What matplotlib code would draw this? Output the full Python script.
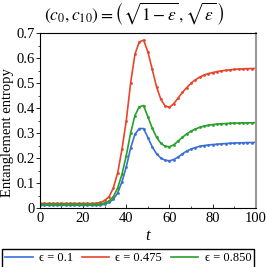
import matplotlib
matplotlib.use("Agg")
import matplotlib.pyplot as plt
import numpy as np

plt.rcParams['font.family'] = ['Liberation Serif', 'DejaVu Serif']
plt.rcParams['mathtext.fontset'] = 'stix'

# tiempo (cada 2 unidades)
t = list(range(0, 101, 2))

# epsilon = 0.1
blue = [0.011, 0.011, 0.011, 0.011, 0.011, 0.011, 0.011, 0.011, 0.011, 0.011,
        0.011, 0.011, 0.011, 0.011, 0.012, 0.015, 0.022, 0.035, 0.060, 0.105,
        0.165, 0.240, 0.295, 0.318, 0.318, 0.282, 0.245, 0.217, 0.200, 0.191,
        0.189, 0.194, 0.204, 0.217, 0.228, 0.236, 0.242, 0.247, 0.250, 0.252,
        0.254, 0.255, 0.257, 0.258, 0.259, 0.260, 0.261, 0.261, 0.262, 0.262,
        0.263]
# epsilon = 0.475
red = [0.018, 0.018, 0.018, 0.018, 0.018, 0.018, 0.018, 0.018, 0.018, 0.018,
       0.018, 0.018, 0.018, 0.019, 0.022, 0.030, 0.045, 0.080, 0.140, 0.235,
       0.350, 0.500, 0.615, 0.665, 0.672, 0.625, 0.555, 0.485, 0.435, 0.408,
       0.403, 0.418, 0.440, 0.463, 0.482, 0.500, 0.513, 0.524, 0.532, 0.538,
       0.542, 0.546, 0.549, 0.551, 0.553, 0.555, 0.556, 0.557, 0.558, 0.558,
       0.559]
# epsilon = 0.850
green = [0.014, 0.014, 0.014, 0.014, 0.014, 0.014, 0.014, 0.014, 0.014, 0.014,
         0.014, 0.014, 0.014, 0.014, 0.016, 0.020, 0.028, 0.045, 0.080, 0.135,
         0.210, 0.300, 0.370, 0.405, 0.410, 0.365, 0.320, 0.283, 0.259, 0.247,
         0.245, 0.253, 0.268, 0.283, 0.297, 0.308, 0.316, 0.323, 0.328, 0.331,
         0.334, 0.336, 0.337, 0.338, 0.339, 0.340, 0.340, 0.341, 0.341, 0.341,
         0.342]

series = [
    (blue, '#3b6fd6', 'ϵ = 0.1'),
    (red, '#e8452c', 'ϵ = 0.475'),
    (green, '#27a12a', 'ϵ = 0.850'),
]

fig = plt.figure(figsize=(2.66, 2.67), dpi=100)
ax = fig.add_axes([0.150, 0.221, 0.812, 0.655])

for vals, col, lab in series:
    ax.plot(t, vals, color=col, lw=1.2, marker='o', ms=2.0, mew=0, label=lab)

ax.set_xlim(0, 100)
ax.set_ylim(0, 0.7)
ax.set_xticks([0, 20, 40, 60, 80, 100])
ax.set_xticks(range(0, 101, 10), minor=True)
ax.set_yticks([0, 0.1, 0.2, 0.3, 0.4, 0.5, 0.6, 0.7])
ax.set_yticklabels(['0', '0.1', '0.2', '0.3', '0.4', '0.5', '0.6', '0.7'])
ax.set_yticks(np.arange(0, 0.71, 0.05), minor=True)
ax.tick_params(which='major', length=3, width=0.6, labelsize=10.5, pad=0.5)
ax.tick_params(which='minor', length=1.5, width=0.5)
ax.tick_params(axis='x', which='both', direction='in', pad=3)
for s in ['left', 'bottom', 'top']:
    ax.spines[s].set_linewidth(0.8)
ax.spines['right'].set_color('#999999')
ax.spines['right'].set_linewidth(1.5)

ax.set_xlabel('t', fontsize=12, style='italic', labelpad=2)
ax.set_ylabel('Entanglement entropy', fontsize=10.5)
ax.yaxis.set_label_coords(-0.118, 0.43)
fig.text(0.505, 0.948,
         r'$\left(c_0, c_{10}\right)=\left(\sqrt{1-\epsilon}\,,\sqrt{\epsilon}\,\right)$',
         ha='center', va='center', fontsize=12.5)

fig.legend(loc='center', bbox_to_anchor=(0.482, 0.032), ncol=3, fontsize=9,
           frameon=True, fancybox=False, edgecolor='black', handlelength=2.2,
           handletextpad=0.5, columnspacing=0.7, borderpad=0.25,
           borderaxespad=0, framealpha=1, markerscale=0)

fig.savefig('out.png', dpi=100)
